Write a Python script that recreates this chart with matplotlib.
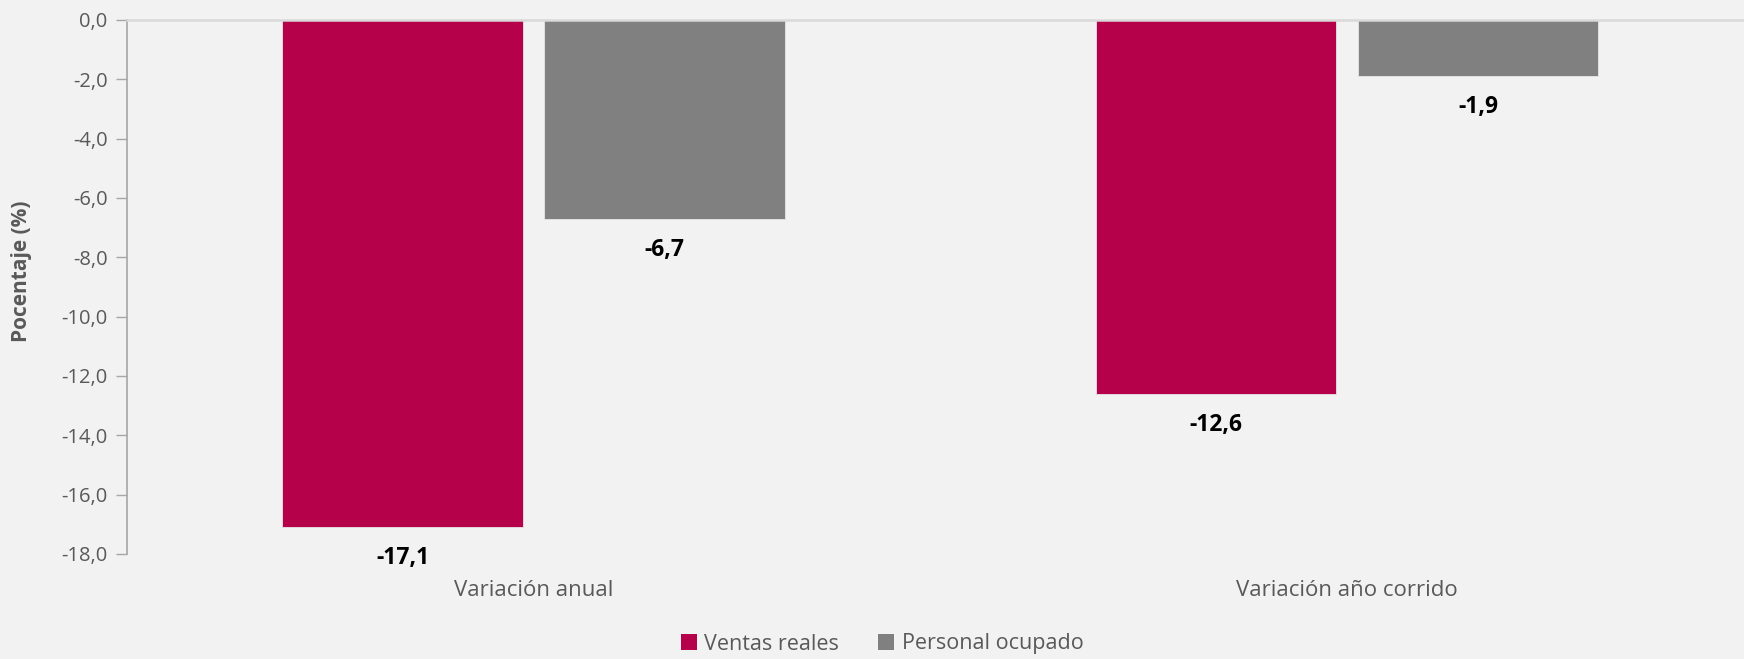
import matplotlib
matplotlib.use("Agg")
import matplotlib.pyplot as plt
import matplotlib.transforms as mtransforms
import numpy as np
from matplotlib.patches import Patch

categories = ["Variación anual", "Variación año corrido"]
series_names = ["Ventas reales", "Personal ocupado"]
ventas = [-17.1, -12.6]
personal = [-6.7, -1.9]
yticks = [0, -2, -4, -6, -8, -10, -12, -14, -16, -18]

RED = "#b5004a"
GREY = "#808080"
BG = "#f2f2f2"
TXT = "#595959"

plt.rcParams['font.family'] = ['Open Sans', 'DejaVu Sans']

W, H = 1744, 659
fig = plt.figure(figsize=(W / 100, H / 100), dpi=100, facecolor=BG)
ax = fig.add_axes([127 / W, (H - 554) / H, (W - 127) / W, 534 / H], facecolor=BG)

x = np.arange(len(categories))
bw = 0.296
off = 0.161
b1 = ax.bar(x - off, ventas, bw, color=RED, edgecolor="#e6e6e6", linewidth=0.6, label=series_names[0])
b2 = ax.bar(x + off, personal, bw, color=GREY, edgecolor="#e6e6e6", linewidth=0.6, label=series_names[1])

for bars, vals in ((b1, ventas), (b2, personal)):
    for r, v in zip(bars, vals):
        ax.annotate(f"{v:.1f}".replace(".", ","),
                    (r.get_x() + r.get_width() / 2, v),
                    xytext=(0, -31), textcoords="offset pixels",
                    ha="center", va="center", fontsize=16.5, fontweight="bold", color="black")

ax.set_xlim(-0.5, (W - 533.5) / 813.5)
ax.set_ylim(-18, 0)
ax.set_yticks(yticks)
ax.set_yticklabels([f"{t:.1f}".replace(".", ",") if t != 0 else "0,0" for t in yticks],
                   fontsize=14.5, color=TXT)
ax.tick_params(axis="y", length=8, width=1, color="#a6a6a6", pad=6)
ax.set_xticks([])

for s in ("right", "bottom"):
    ax.spines[s].set_visible(False)
ax.spines["left"].set_color("#a6a6a6")
ax.spines["left"].set_linewidth(1.2)
ax.spines["top"].set_color("#d9d9d9")
ax.spines["top"].set_linewidth(1.8)

cat_tr = ax.transData + mtransforms.ScaledTranslation(0, -36 / 100, fig.dpi_scale_trans)
for i, c in enumerate(categories):
    ax.text(i, -18, c, transform=cat_tr, ha="center", va="center",
            fontsize=16, color=TXT)

fig.text(22 / W, 1 - 271 / H, "Pocentaje (%)", rotation=90, ha="center", va="center",
         fontsize=15, fontweight="bold", color=TXT)

handles = [Patch(facecolor=RED, label=series_names[0]), Patch(facecolor=GREY, label=series_names[1])]
fig.legend(handles=handles, loc="center", bbox_to_anchor=(882 / W, 1 - 644 / H), ncol=2,
           frameon=False, fontsize=15.5, labelcolor=TXT, handlelength=0.75, handleheight=0.75,
           handletextpad=0.35, columnspacing=1.8)

fig.savefig("out.png", dpi=100, facecolor=BG)
